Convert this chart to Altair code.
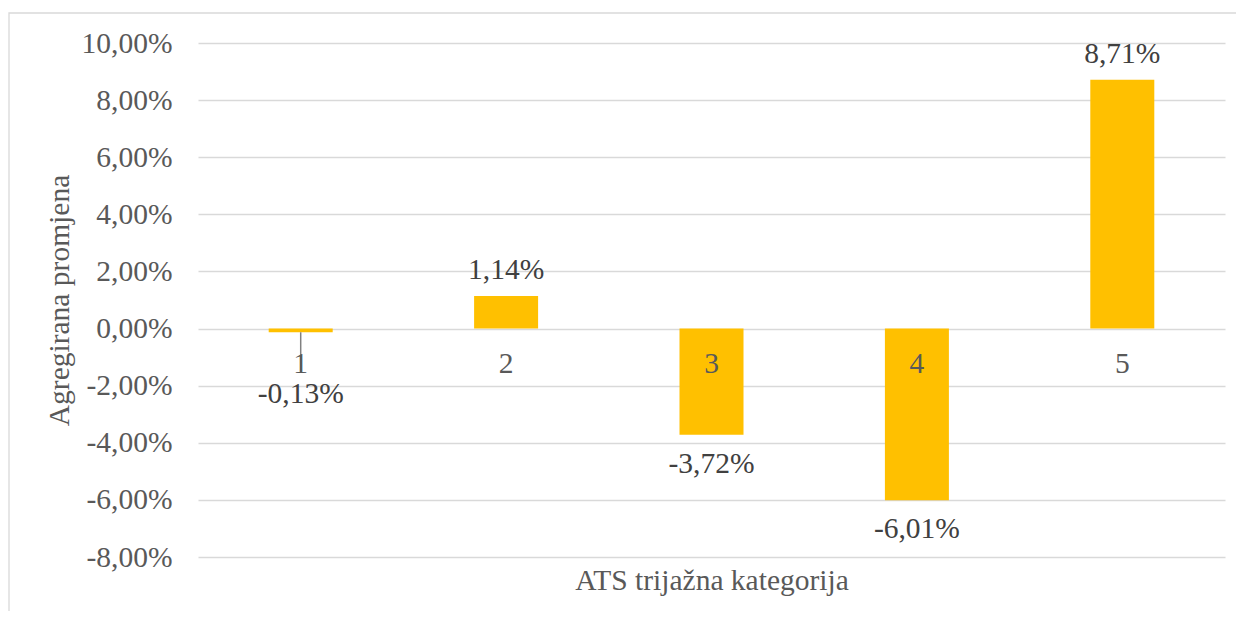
import altair as alt
import pandas as pd

categories = ["1", "2", "3", "4", "5"]
values = [-0.0013, 0.0114, -0.0372, -0.0601, 0.0871]
tick_values = [-0.08, -0.06, -0.04, -0.02, 0.0, 0.02, 0.04, 0.06, 0.08, 0.10]

df = pd.DataFrame({"kategorija": categories, "promjena": values})

FONT = "Liberation Serif, Times New Roman, DejaVu Serif, serif"
FS = 29.5
AXIS_COLOR = "#595959"
LABEL_COLOR = "#404040"

fmt = "replace(replace(format(datum.value, '.2%'), '.', ','), '\u2212', '-')"
fmt_field = "replace(replace(format(datum.promjena, '.2%'), '.', ','), '\u2212', '-')"

x = alt.X(
    "kategorija:N",
    scale=alt.Scale(domain=categories, paddingInner=0, paddingOuter=0),
    axis=alt.Axis(
        title="ATS trijažna kategorija", labels=False, ticks=False, domain=False,
        titleY=23, titleBaseline="middle", titleFontSize=FS, titleFont=FONT,
        titleColor=AXIS_COLOR, titleFontWeight="normal",
    ),
)
y = alt.Y(
    "promjena:Q",
    scale=alt.Scale(domain=[-0.08, 0.10], nice=False, zero=False),
    axis=alt.Axis(
        values=tick_values, labelExpr=fmt, grid=True, gridColor="#d9d9d9",
        gridWidth=1.3, domain=False, ticks=False, labelPadding=26,
        labelFontSize=FS, labelFont=FONT, labelColor=AXIS_COLOR,
        title="Agregirana promjena", titleX=-139, titleY=257, titleAngle=-90,
        titleBaseline="middle", titleAlign="center", titleFontSize=FS,
        titleFont=FONT, titleColor=AXIS_COLOR, titleFontWeight="normal",
    ),
)

base = alt.Chart(df).transform_calculate(lbl=fmt_field)

border = alt.Chart(pd.DataFrame({"a": [0]})).mark_rect(
    fill="transparent", stroke="#d9d9d9", strokeWidth=1.3
).encode(
    x=alt.value(-189), x2=alt.value(1100), y=alt.value(-30), y2=alt.value(700)
)

bars = base.mark_bar(size=64, color="#FFC000").encode(x=x, y=y, y2=alt.datum(0))

leader = base.transform_filter("datum.kategorija == '1'").mark_rule(
    color="#808080", strokeWidth=1.5
).encode(x="kategorija:N", y="promjena:Q", y2=alt.value(330))

cat_text = base.mark_text(
    dy=44.5, baseline="alphabetic", font=FONT, fontSize=FS, color=AXIS_COLOR
).encode(x="kategorija:N", y=alt.datum(0), text="kategorija:N")

pos_labels = base.transform_filter("datum.promjena > 0").mark_text(
    dy=-17, baseline="alphabetic", font=FONT, fontSize=FS, color=LABEL_COLOR
).encode(x="kategorija:N", y="promjena:Q", text="lbl:N")

neg_labels = base.transform_filter(
    "datum.promjena < 0 && datum.kategorija != '1'"
).mark_text(
    dy=38, baseline="alphabetic", font=FONT, fontSize=FS, color=LABEL_COLOR
).encode(x="kategorija:N", y="promjena:Q", text="lbl:N")

first_label = base.transform_filter("datum.kategorija == '1'").mark_text(
    dy=71, baseline="alphabetic", font=FONT, fontSize=FS, color=LABEL_COLOR
).encode(x="kategorija:N", y="promjena:Q", text="lbl:N")

chart = alt.layer(
    border, bars, leader, cat_text, pos_labels, neg_labels, first_label
).properties(
    width=1027, height=514,
    autosize=alt.AutoSizeParams(type="none"),
    padding={"left": 190, "top": 35, "right": 11, "bottom": 54},
    background="white",
).configure_view(strokeWidth=0)

chart.save("out.html", embed_options={"renderer": "svg", "actions": False})
